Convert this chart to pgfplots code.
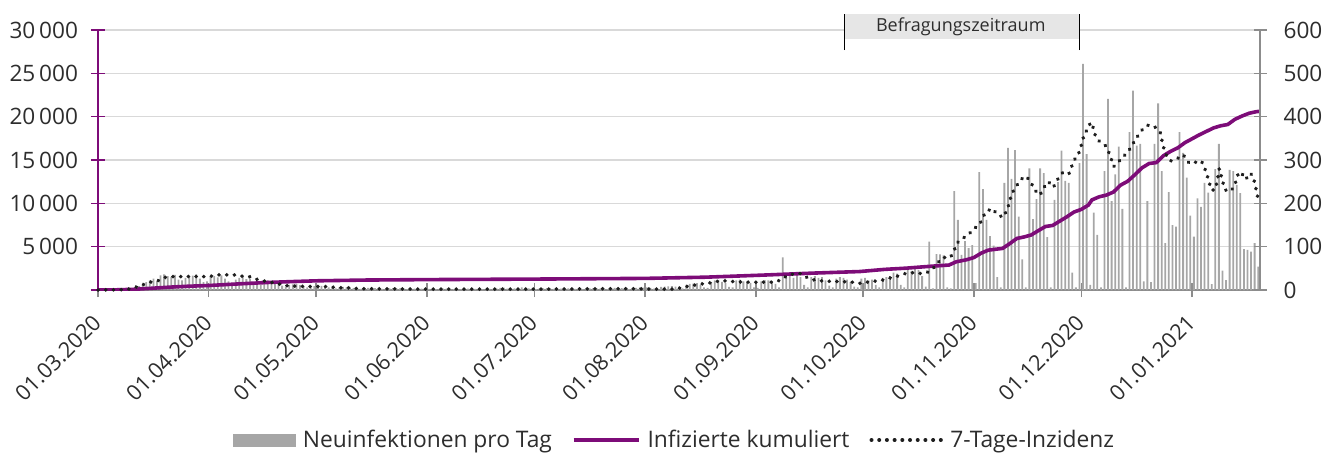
\documentclass[border=0pt]{standalone}
\usepackage{fontspec}
\setmainfont{Open Sans}
\usepackage{pgfplots}
\pgfplotsset{compat=1.18}
\definecolor{purp}{RGB}{125,12,120}
\definecolor{barGray}{RGB}{166,166,166}
\definecolor{axGray}{RGB}{140,140,140}
\definecolor{gridGray}{RGB}{217,217,217}
\definecolor{txt}{RGB}{45,45,45}
\definecolor{dotc}{RGB}{30,30,30}
\definecolor{boxGray}{RGB}{230,230,230}
\begin{document}
\begin{tikzpicture}
\path[use as bounding box] (0,0) rectangle (661.5pt,226pt);
\begin{axis}[
  at={(49pt,81pt)}, anchor=south west,
  scale only axis, width=581pt, height=130pt,
  xmin=0, xmax=325, ymin=0, ymax=30000,
  scaled y ticks=false,
  axis x line*=bottom, axis y line*=left,
  x axis line style={draw=axGray, line width=0.65pt},
  y axis line style={draw=purp, line width=0.75pt},
  xtick={0,31,61,92,122,153,184,214,245,275,306},
  xticklabels={01.03.2020,01.04.2020,01.05.2020,01.06.2020,01.07.2020,01.08.2020,01.09.2020,01.10.2020,01.11.2020,01.12.2020,01.01.2021},
  ytick={0,5000,10000,15000,20000,25000,30000},
  yticklabels={,5\,000,10\,000,15\,000,20\,000,25\,000,30\,000},
  tick align=center, major tick length=7pt,
  xtick style={draw=axGray, line width=0.65pt},
  ytick style={draw=purp, line width=0.75pt},
  ymajorgrids, major grid style={draw=gridGray, line width=0.65pt},
  tick label style={font=\fontsize{11.3}{13}\selectfont, text=txt},
  yticklabel style={xshift=-3pt},
  xticklabel style={font=\fontsize{10.8}{12}\selectfont, xshift=2pt, yshift=-8.5pt, rotate=45, anchor=east},
  legend style={at={(0.497,-0.577)}, anchor=center, draw=none, fill=none,
    legend columns=-1, font=\fontsize{11.4}{13}\selectfont, text=txt,
    /tikz/every even column/.append style={column sep=8pt},
    /tikz/every odd column/.append style={column sep=1.5pt}},
]
\addplot[ybar, bar width=0.9pt, fill=barGray, draw=none,
  legend image code/.code={\fill[barGray] (0pt,-3.25pt) rectangle (31.5pt,3.25pt);}]
  table[header=false, row sep=\\, x expr=\coordindex+0.5, y index=0] {
0\\10\\20\\30\\40\\60\\80\\100\\150\\200\\
300\\450\\600\\900\\1100\\1300\\1000\\1700\\1800\\1600\\
1500\\1750\\1200\\1100\\1400\\1600\\1650\\1800\\1300\\900\\
1000\\1500\\1600\\1450\\1700\\1300\\1000\\800\\1200\\1400\\
1500\\1250\\1300\\900\\700\\600\\900\\1100\\1000\\800\\
700\\500\\400\\600\\650\\700\\550\\450\\300\\300\\
450\\500\\480\\400\\300\\250\\200\\280\\350\\300\\
280\\220\\150\\120\\200\\260\\250\\220\\180\\120\\
100\\180\\220\\200\\190\\150\\100\\80\\150\\180\\
170\\160\\140\\90\\70\\120\\160\\150\\140\\110\\
70\\60\\110\\150\\140\\120\\100\\60\\50\\120\\
140\\160\\240\\280\\150\\100\\180\\250\\300\\260\\
200\\120\\100\\180\\200\\220\\190\\120\\80\\150\\
180\\190\\170\\140\\90\\80\\160\\200\\210\\190\\
150\\100\\90\\200\\250\\240\\220\\180\\110\\100\\
250\\300\\280\\300\\250\\150\\140\\350\\400\\420\\
450\\400\\250\\200\\600\\700\\750\\800\\600\\300\\
250\\900\\1100\\1000\\950\\800\\350\\300\\1100\\1200\\
1000\\900\\800\\300\\250\\1000\\1150\\1100\\1000\\700\\
300\\3770\\1500\\1800\\1400\\1900\\1500\\600\\300\\1500\\
1600\\1400\\1500\\1100\\500\\300\\1300\\1500\\1400\\1200\\
900\\400\\300\\1300\\1400\\1100\\1200\\600\\300\\1400\\
1500\\1600\\2000\\1900\\600\\300\\2400\\2200\\2600\\2300\\
1600\\400\\5570\\200\\4150\\4100\\4000\\300\\200\\11420\\
8080\\4040\\5650\\4840\\5190\\800\\13600\\11650\\8080\\6230\\
5110\\1500\\300\\12350\\16390\\12810\\16150\\8460\\3540\\300\\
14040\\8190\\10500\\14040\\13500\\6110\\300\\10390\\12460\\16080\\
12580\\12350\\2000\\300\\14650\\26080\\15690\\600\\8920\\6350\\
300\\13730\\22040\\10270\\13350\\16540\\9350\\300\\18230\\23000\\
16650\\16850\\1000\\10270\\920\\16850\\21540\\13730\\5420\\11300\\
7500\\7300\\18230\\15810\\12960\\8580\\6150\\10580\\9600\\12350\\
11230\\690\\13960\\16850\\2230\\1150\\13850\\13730\\12120\\11190\\
4730\\4620\\4420\\5420\\2690\\
};
\addlegendentry{Neuinfektionen pro Tag}
\addplot[purp, line width=1.8pt,
  legend image code/.code={\draw[purp, line width=1.8pt] (0pt,0pt) -- (32.5pt,0pt);}]
  coordinates {(0,0) (5,20) (10,80) (15,200) (20,330) (25,430) (31,520) (40,720) (48,880) (55,980) (61,1060) (75,1150) (92,1200) (122,1260) (153,1340) (170,1480) (186,1720) (200,1950) (213,2130) (220,2380) (226,2520) (231,2680) (235,2800) (238,2880) (240,3250) (243,3500) (245,3750) (247,4250) (249,4600) (251,4700) (253,4800) (255,5350) (257,5950) (259,6120) (261,6350) (263,6850) (265,7330) (267,7450) (269,7950) (271,8450) (273,9000) (275,9300) (277,9800) (278,10400) (280,10750) (282,10950) (284,11300) (286,12100) (288,12550) (290,13300) (292,14100) (294,14600) (296,14700) (298,15500) (300,16000) (302,16400) (304,17000) (306,17450) (308,17900) (310,18300) (312,18700) (314,18950) (316,19100) (318,19700) (320,20080) (322,20400) (324,20580) (325,20620)};
\addlegendentry{Infizierte kumuliert}
\addlegendimage{legend image code/.code={\draw[dotc, line width=1.9pt, line cap=round, dash pattern=on 0.1pt off 3.75pt] (1pt,0pt) -- (36pt,0pt);}}
\addlegendentry{7-Tage-Inzidenz}
\end{axis}
\begin{axis}[
  at={(49pt,81pt)}, anchor=south west,
  scale only axis, width=581pt, height=130pt,
  xmin=0, xmax=325, ymin=0, ymax=600,
  axis x line=none, axis y line*=right,
  y axis line style={draw=axGray, line width=1pt},
  ytick={0,100,200,300,400,500,600},
  tick align=center, major tick length=6.5pt,
  ytick style={draw=axGray, line width=0.75pt},
  tick label style={font=\fontsize{11.3}{13}\selectfont, text=txt},
  yticklabel style={xshift=5pt},
  /pgf/number format/assume math mode=true,
  clip=false,
]
\addplot[dotc, line width=1.9pt, line cap=round, dash pattern=on 0.1pt off 3.75pt]
  coordinates {(0,0) (8,1) (10,5) (12.5,12) (14.5,18) (16.7,21) (18.7,29) (20.8,31) (25,31) (31,31) (33.7,35) (38,35) (40.2,32) (42.3,31) (44.3,25) (46.3,21) (48.4,18) (50.5,14) (52.8,10) (55,9) (59,8) (63.5,8) (67.7,5) (70,5) (73,3) (90,2) (120,2) (150,3) (155,2) (161,2) (163,5) (165.2,9) (167.4,12) (169.6,15) (171.7,17) (173.8,21) (175.9,21) (178.1,19) (182.4,18) (188.9,18) (191,23) (192.7,33) (194.5,37) (196.6,38) (198.3,29) (200.4,23) (202.5,21) (204.8,20) (209,19) (211.1,18) (213.5,15) (215.6,19) (218,21) (219.5,23) (221.6,28) (223.6,32) (225.8,38) (227.6,40) (229.6,38) (231.8,40) (233.6,50) (234.8,62) (236.2,75) (238.4,75) (239.5,92) (240.2,108) (241.6,118) (243.4,127) (245,142) (246.5,150) (248.3,181) (250.2,188) (251.6,173) (253.3,168) (254.8,198) (255.3,215) (256.2,232) (258.1,255) (259.5,263) (260.9,250) (261.8,232) (263.5,219) (264.4,235) (265.8,250) (267.2,237) (268.8,261) (270,273) (271.6,269) (273,300) (274,309) (274.8,327) (275.4,346) (276,363) (276.9,371) (277.6,387) (278.5,372) (279,354) (280.2,342) (281.8,333) (282.7,318) (283.5,300) (284.1,285) (285.3,294) (286.3,305) (287.7,315) (289.1,331) (290,346) (291.4,362) (292.5,375) (293.9,381) (295.9,375) (297.2,362) (297.6,344) (298.1,327) (298.9,309) (300,298) (301.2,300) (302.4,306) (303.6,312) (304.4,300) (305.3,292) (306.5,294) (307.6,296) (308.6,298) (309.5,282) (310.2,265) (310.8,248) (311.4,231) (312.4,231) (313,250) (313.6,280) (314.1,265) (314.7,246) (315.3,231) (316.5,227) (317.7,237) (318.5,256) (319,272) (320,268) (321,255) (322.2,270) (323.1,262) (323.7,240) (324.5,209)};
\fill[boxGray] (axis cs:208.9,579.2) rectangle (axis cs:274.4,636.9);
\draw[black, line width=0.5pt] (axis cs:208.9,553.8) -- (axis cs:208.9,636.9);
\draw[black, line width=0.5pt] (axis cs:274.4,553.8) -- (axis cs:274.4,636.9);
\node[anchor=base, inner sep=0pt, font=\fontsize{9}{11}\selectfont, text=txt] at (axis cs:241.3,596) {Befragungszeitraum};
\end{axis}
\end{tikzpicture}
\end{document}
